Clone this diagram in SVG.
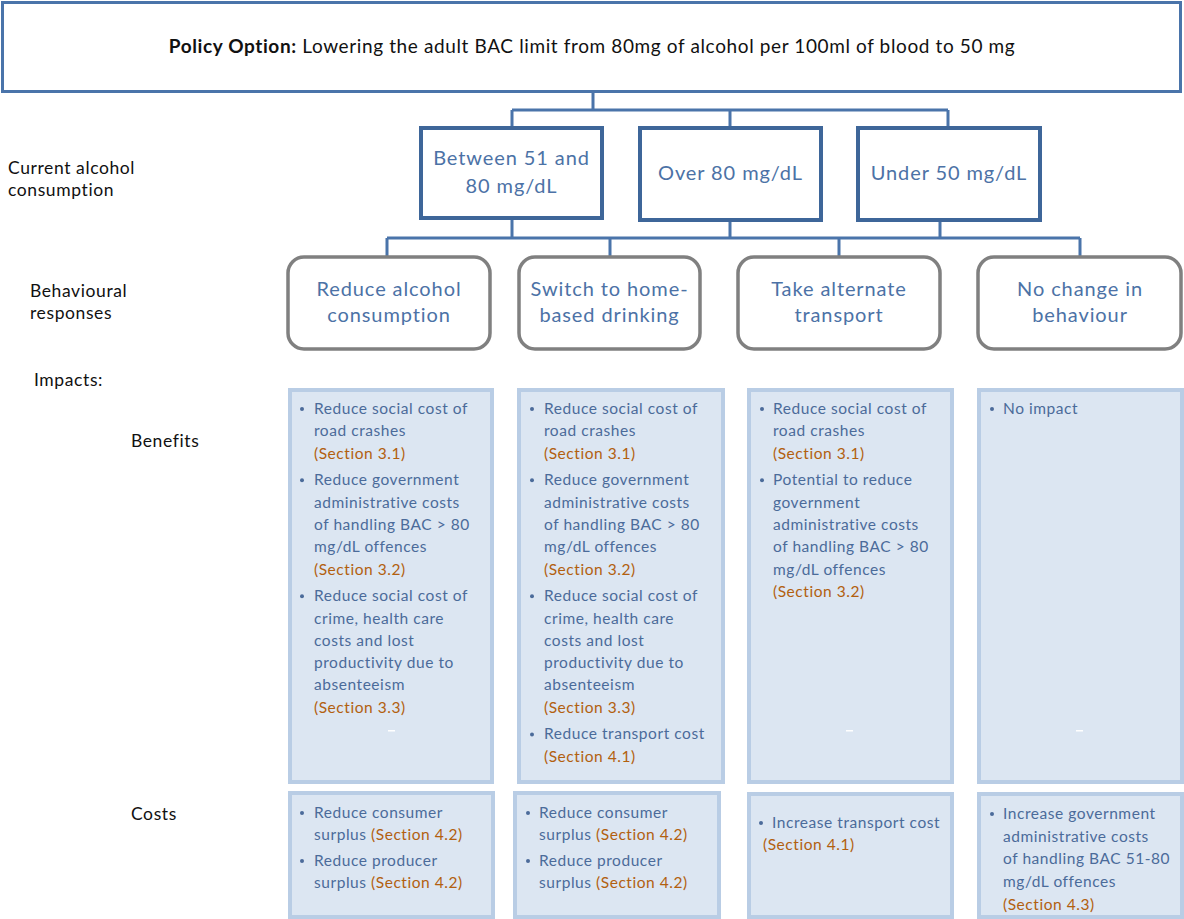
<svg xmlns="http://www.w3.org/2000/svg" width="1184" height="919" viewBox="0 0 1184 919">
  <style>
    text { font-family: Lato, "Liberation Sans", sans-serif; }
    .policy { fill: none; stroke: #4A74AA; stroke-width: 3; }
    .level { fill: #FFFFFF; stroke: #3E6699; stroke-width: 4; }
    .resp { fill: #FFFFFF; stroke: #808080; stroke-width: 3.5; }
    .panel { fill: #DCE6F2; stroke: #B9CDE5; stroke-width: 4; }
    .conn { fill: none; stroke: #4A74AA; stroke-width: 3; }
    .title { font-size: 19px; letter-spacing: 0.62px; fill: #111111; text-anchor: middle; }
    .side { font-size: 17.5px; letter-spacing: 0.6px; fill: #111111; }
    .node { font-size: 20px; letter-spacing: 0.9px; fill: #4C72A6; text-anchor: middle; }
    .item { font-size: 15.5px; letter-spacing: 0.55px; fill: #4B6B9A; }
    .ref { fill: #B2600F; }
    .dot { fill: #4B6B9A; }
    .tick { fill: #FFFFFF; }
  </style>

  <!-- policy banner -->
  <g id="policy">
    <rect class="policy" x="2.5" y="2.5" width="1178" height="89"/>
    <text class="title" x="592" y="53"><tspan font-weight="bold">Policy Option:</tspan> Lowering the adult BAC limit from 80mg of alcohol per 100ml of blood to 50 mg</text>
  </g>

  <!-- row labels -->
  <g id="row-labels">
    <text class="side" x="8" y="174">Current alcohol</text>
    <text class="side" x="8" y="196">consumption</text>
    <text class="side" x="30" y="297">Behavioural</text>
    <text class="side" x="30" y="319">responses</text>
    <text class="side" x="34" y="386">Impacts:</text>
    <text class="side" x="131" y="447">Benefits</text>
    <text class="side" x="131" y="820">Costs</text>
  </g>

  <!-- connectors -->
  <g id="connectors">
    <path class="conn" d="M593 92 V110 M512 110 H948 M512 110 V128 M730 110 V128 M948 110 V128"/>
    <path class="conn" d="M512 218 V238 M730 220 V238 M940 220 V238 M387 238 H1080 M387 238 V257 M610 238 V257 M839 238 V257 M1080 238 V257"/>
  </g>

  <!-- consumption levels -->
  <g id="level-51-80">
    <rect class="level" x="421" y="128" width="181" height="90"/>
    <text class="node" x="511.5" y="165">Between 51 and</text>
    <text class="node" x="511.5" y="193">80 mg/dL</text>
  </g>
  <g id="level-over-80">
    <rect class="level" x="640" y="128" width="181" height="92"/>
    <text class="node" x="730.5" y="180">Over 80 mg/dL</text>
  </g>
  <g id="level-under-50">
    <rect class="level" x="858" y="128" width="182" height="92"/>
    <text class="node" x="949" y="180">Under 50 mg/dL</text>
  </g>

  <!-- behavioural responses -->
  <g id="resp-reduce">
    <rect class="resp" x="288" y="257" width="202" height="92" rx="16"/>
    <text class="node" x="389" y="296">Reduce alcohol</text>
    <text class="node" x="389" y="322">consumption</text>
  </g>
  <g id="resp-home">
    <rect class="resp" x="519" y="257" width="181" height="92" rx="16"/>
    <text class="node" x="609.5" y="296">Switch to home-</text>
    <text class="node" x="609.5" y="322">based drinking</text>
  </g>
  <g id="resp-transport">
    <rect class="resp" x="738" y="257" width="202" height="92" rx="16"/>
    <text class="node" x="839" y="296">Take alternate</text>
    <text class="node" x="839" y="322">transport</text>
  </g>
  <g id="resp-nochange">
    <rect class="resp" x="978" y="257" width="203" height="92" rx="16"/>
    <text class="node" x="1080" y="296">No change in</text>
    <text class="node" x="1080" y="322">behaviour</text>
  </g>

  <!-- benefits panels -->
  <g id="benefit-reduce">
    <rect class="panel" x="290" y="390" width="202" height="392"/>
    <circle class="dot" cx="302" cy="409" r="2"/>
    <text class="item" x="314" y="414">Reduce social cost of</text>
    <text class="item" x="314" y="436.3">road crashes</text>
    <text class="item ref" x="314" y="458.6">(Section 3.1)</text>
    <circle class="dot" cx="302" cy="480.3" r="2"/>
    <text class="item" x="314" y="485.3">Reduce government</text>
    <text class="item" x="314" y="507.6">administrative  costs</text>
    <text class="item" x="314" y="529.9">of handling  BAC &gt; 80</text>
    <text class="item" x="314" y="552.2">mg/dL offences</text>
    <text class="item ref" x="314" y="574.5">(Section 3.2)</text>
    <circle class="dot" cx="302" cy="596.2" r="2"/>
    <text class="item" x="314" y="601.2">Reduce social cost of</text>
    <text class="item" x="314" y="623.5">crime, health  care</text>
    <text class="item" x="314" y="645.8">costs and lost</text>
    <text class="item" x="314" y="668.1">productivity due to</text>
    <text class="item" x="314" y="690.4">absenteeism</text>
    <text class="item ref" x="314" y="712.7">(Section 3.3)</text>
    <rect class="tick" x="388" y="730" width="7" height="1.5"/>
  </g>
  <g id="benefit-home">
    <rect class="panel" x="519" y="390" width="204" height="392"/>
    <circle class="dot" cx="532" cy="409" r="2"/>
    <text class="item" x="544" y="414">Reduce social cost of</text>
    <text class="item" x="544" y="436.3">road crashes</text>
    <text class="item ref" x="544" y="458.6">(Section 3.1)</text>
    <circle class="dot" cx="532" cy="480.3" r="2"/>
    <text class="item" x="544" y="485.3">Reduce government</text>
    <text class="item" x="544" y="507.6">administrative  costs</text>
    <text class="item" x="544" y="529.9">of handling  BAC &gt; 80</text>
    <text class="item" x="544" y="552.2">mg/dL offences</text>
    <text class="item ref" x="544" y="574.5">(Section 3.2)</text>
    <circle class="dot" cx="532" cy="596.2" r="2"/>
    <text class="item" x="544" y="601.2">Reduce social cost of</text>
    <text class="item" x="544" y="623.5">crime, health  care</text>
    <text class="item" x="544" y="645.8">costs and lost</text>
    <text class="item" x="544" y="668.1">productivity due to</text>
    <text class="item" x="544" y="690.4">absenteeism</text>
    <text class="item ref" x="544" y="712.7">(Section 3.3)</text>
    <circle class="dot" cx="532" cy="734.4" r="2"/>
    <text class="item" x="544" y="739.4">Reduce transport cost</text>
    <text class="item ref" x="544" y="761.7">(Section 4.1)</text>
  </g>
  <g id="benefit-transport">
    <rect class="panel" x="749" y="390" width="203" height="392"/>
    <circle class="dot" cx="762" cy="409" r="2"/>
    <text class="item" x="773" y="414">Reduce social cost of</text>
    <text class="item" x="773" y="436.3">road crashes</text>
    <text class="item ref" x="773" y="458.6">(Section 3.1)</text>
    <circle class="dot" cx="762" cy="480.3" r="2"/>
    <text class="item" x="773" y="485.3">Potential to reduce</text>
    <text class="item" x="773" y="507.6">government</text>
    <text class="item" x="773" y="529.9">administrative  costs</text>
    <text class="item" x="773" y="552.2">of handling  BAC &gt; 80</text>
    <text class="item" x="773" y="574.5">mg/dL offences</text>
    <text class="item ref" x="773" y="596.8">(Section 3.2)</text>
    <rect class="tick" x="846" y="730" width="7" height="1.5"/>
  </g>
  <g id="benefit-nochange">
    <rect class="panel" x="979" y="390" width="203" height="392"/>
    <circle class="dot" cx="992" cy="409" r="2"/>
    <text class="item" x="1003" y="414">No impact</text>
    <rect class="tick" x="1076" y="730" width="7" height="1.5"/>
  </g>

  <!-- costs panels -->
  <g id="cost-reduce">
    <rect class="panel" x="290" y="793" width="203" height="124"/>
    <circle class="dot" cx="302" cy="813" r="2"/>
    <text class="item" x="314" y="818">Reduce consumer</text>
    <text class="item" x="314" y="840.3">surplus <tspan class="ref">(Section 4.2)</tspan></text>
    <circle class="dot" cx="302" cy="861" r="2"/>
    <text class="item" x="314" y="866">Reduce producer</text>
    <text class="item" x="314" y="888.3">surplus <tspan class="ref">(Section 4.2)</tspan></text>
  </g>
  <g id="cost-home">
    <rect class="panel" x="515" y="793" width="204" height="124"/>
    <circle class="dot" cx="528" cy="813" r="2"/>
    <text class="item" x="539" y="818">Reduce consumer</text>
    <text class="item" x="539" y="840.3">surplus <tspan class="ref">(Section 4.2)</tspan></text>
    <circle class="dot" cx="528" cy="861" r="2"/>
    <text class="item" x="539" y="866">Reduce producer</text>
    <text class="item" x="539" y="888.3">surplus <tspan class="ref">(Section 4.2)</tspan></text>
  </g>
  <g id="cost-transport">
    <rect class="panel" x="749" y="794" width="203" height="123"/>
    <circle class="dot" cx="761" cy="823" r="2"/>
    <text class="item" x="772" y="828">Increase transport cost</text>
    <text class="item ref" x="763" y="850.3">(Section 4.1)</text>
  </g>
  <g id="cost-nochange">
    <rect class="panel" x="979" y="794" width="203" height="123"/>
    <circle class="dot" cx="992" cy="814" r="2"/>
    <text class="item" x="1003" y="819">Increase government</text>
    <text class="item" x="1003" y="841.7">administrative  costs</text>
    <text class="item" x="1003" y="864.4">of handling  BAC 51-80</text>
    <text class="item" x="1003" y="887.1">mg/dL offences</text>
    <text class="item ref" x="1003" y="909.8">(Section 4.3)</text>
  </g>
</svg>
